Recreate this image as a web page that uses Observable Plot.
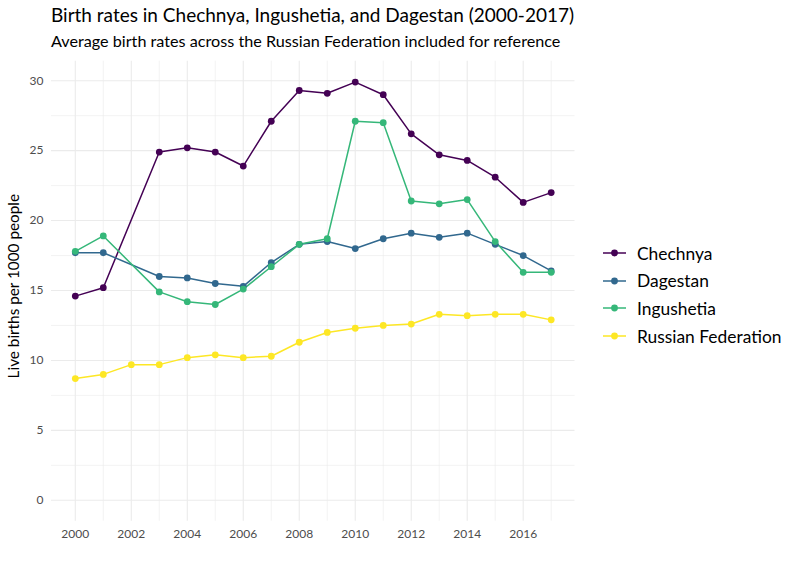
<!DOCTYPE html>
<html>
<head>
<meta charset="utf-8">
<script src="https://cdn.jsdelivr.net/npm/d3@7"></script>
<script src="https://cdn.jsdelivr.net/npm/@observablehq/plot@0.6"></script>
<style>
  html, body { margin: 0; padding: 0; background: #fff; }
  body { width: 800px; height: 571px; position: relative; overflow: hidden; font-family: Lato, "Open Sans", sans-serif; }
  #title { position: absolute; left: 51px; top: 4px; font-size: 19px; line-height: 1.2; color: #000; white-space: nowrap; }
  #subtitle { position: absolute; left: 51px; top: 30.5px; font-size: 16.2px; line-height: 1.2; color: #000; white-space: nowrap; }
  #chart { position: absolute; left: 0; top: 55px; }
  #legend { position: absolute; left: 603px; top: 239.5px; font-size: 17.4px; color: #000; }
  .row { display: flex; align-items: center; height: 27.6px; white-space: nowrap; }
  .row svg { margin-right: 11px; }
</style>
</head>
<body>
<div id="title">Birth rates in Chechnya, Ingushetia, and Dagestan (2000-2017)</div>
<div id="subtitle">Average birth rates across the Russian Federation included for reference</div>
<div id="chart"></div>
<div id="legend"></div>
<script>
const series = ["Chechnya", "Dagestan", "Ingushetia", "Russian Federation"];
const colors = ["#440154", "#31688E", "#35B779", "#FDE725"];

const regionYears = [2000, 2001, 2003, 2004, 2005, 2006, 2007, 2008, 2009, 2010, 2011, 2012, 2013, 2014, 2015, 2016, 2017];
const chechnya   = [14.6, 15.2, 24.9, 25.2, 24.9, 23.9, 27.1, 29.3, 29.1, 29.9, 29.0, 26.2, 24.7, 24.3, 23.1, 21.3, 22.0];
const dagestan   = [17.7, 17.7, 16.0, 15.9, 15.5, 15.3, 17.0, 18.3, 18.5, 18.0, 18.7, 19.1, 18.8, 19.1, 18.3, 17.5, 16.4];
const ingushetia = [17.8, 18.9, 14.9, 14.2, 14.0, 15.1, 16.7, 18.3, 18.7, 27.1, 27.0, 21.4, 21.2, 21.5, 18.5, 16.3, 16.3];

const russiaYears = [2000, 2001, 2002, 2003, 2004, 2005, 2006, 2007, 2008, 2009, 2010, 2011, 2012, 2013, 2014, 2015, 2016, 2017];
const russia      = [8.7, 9.0, 9.7, 9.7, 10.2, 10.4, 10.2, 10.3, 11.3, 12.0, 12.3, 12.5, 12.6, 13.3, 13.2, 13.3, 13.3, 12.9];

const xTicks = [2000, 2002, 2004, 2006, 2008, 2010, 2012, 2014, 2016];
const xMinor = [2001, 2003, 2005, 2007, 2009, 2011, 2013, 2015, 2017];
const yTicks = [0, 5, 10, 15, 20, 25, 30];
const yMinor = [2.5, 7.5, 12.5, 17.5, 22.5, 27.5];

const data = [];
regionYears.forEach((yr, i) => {
  data.push({year: yr, value: chechnya[i], region: "Chechnya"});
  data.push({year: yr, value: dagestan[i], region: "Dagestan"});
  data.push({year: yr, value: ingushetia[i], region: "Ingushetia"});
});
russiaYears.forEach((yr, i) => data.push({year: yr, value: russia[i], region: "Russian Federation"}));

const chart = Plot.plot({
  width: 800,
  height: 516,
  marginLeft: 51,
  marginRight: 225.5,
  marginTop: 5.7,
  marginBottom: 50.3,
  style: {fontFamily: "Lato, sans-serif", background: "transparent"},
  x: {domain: [1999.15, 2017.85]},
  y: {domain: [-1.495, 31.395]},
  color: {domain: series, range: colors},
  marks: [
    Plot.ruleY(yMinor, {stroke: "#ebebeb", strokeWidth: 0.6}),
    Plot.ruleX(xMinor, {stroke: "#ebebeb", strokeWidth: 0.6}),
    Plot.ruleY(yTicks, {stroke: "#ebebeb", strokeWidth: 1.1}),
    Plot.ruleX(xTicks, {stroke: "#ebebeb", strokeWidth: 1.1}),
    Plot.axisX({ticks: xTicks, tickFormat: d => String(d), tickSize: 0, tickPadding: 8, fontSize: 12, color: "#4d4d4d", label: null}),
    Plot.axisY({ticks: yTicks, tickFormat: d => String(d), tickSize: 0, tickPadding: 8, fontSize: 12, color: "#4d4d4d", label: null}),
    Plot.text(["Live births per 1000 people"], {frameAnchor: "left", dx: -37, dy: -5, rotate: -90, textAnchor: "middle", fontSize: 15.3, fill: "#000", text: d => d}),
    Plot.line(data, {x: "year", y: "value", stroke: "region", z: "region", strokeWidth: 1.5}),
    Plot.dot(data, {x: "year", y: "value", fill: "region", r: 3.4})
  ]
});
document.getElementById("chart").appendChild(chart);

const legend = document.getElementById("legend");
series.forEach((s, i) => {
  const row = document.createElement("div");
  row.className = "row";
  row.innerHTML = `<svg width="23" height="10"><line x1="0" x2="23" y1="5" y2="5" stroke="${colors[i]}" stroke-width="1.5"/><circle cx="11.5" cy="5" r="3.4" fill="${colors[i]}"/></svg><span>${s}</span>`;
  legend.appendChild(row);
});
</script>
</body>
</html>
